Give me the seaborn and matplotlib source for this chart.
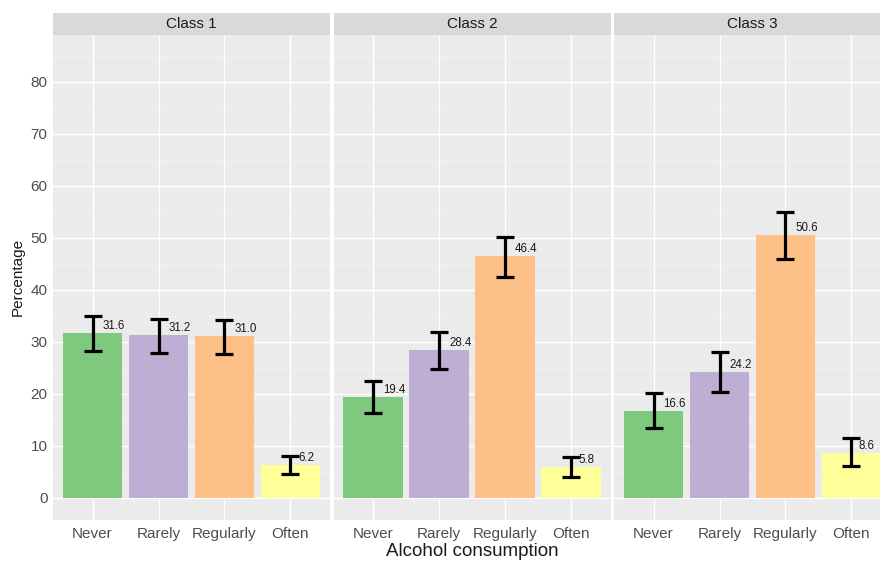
import matplotlib
matplotlib.use("Agg")
import matplotlib.pyplot as plt
import numpy as np
import pandas as pd
import seaborn as sns
from matplotlib.patches import Rectangle

# Survey data: alcohol consumption by latent class
categories = ["Never", "Rarely", "Regularly", "Often"]
classes = ["Class 1", "Class 2", "Class 3"]
pct_class1 = [31.6, 31.2, 31.0, 6.2]
pct_class2 = [19.4, 28.4, 46.4, 5.8]
pct_class3 = [16.6, 24.2, 50.6, 8.6]
low_class1 = [28.2, 27.9, 27.6, 4.5]
low_class2 = [16.3, 24.8, 42.4, 4.0]
low_class3 = [13.3, 20.4, 46.0, 6.1]
high_class1 = [34.9, 34.4, 34.1, 8.0]
high_class2 = [22.5, 31.9, 50.2, 7.8]
high_class3 = [20.1, 28.1, 54.9, 11.4]
colors = ["#7FC97F", "#BEAED4", "#FDC086", "#FFFF99"]

pcts = [pct_class1, pct_class2, pct_class3]
lows = [low_class1, low_class2, low_class3]
highs = [high_class1, high_class2, high_class3]

sns.set_style("white")
plt.rcParams["font.family"] = ["Liberation Sans", "DejaVu Sans"]

W, H = 880, 563
fig = plt.figure(figsize=(W / 100, H / 100), dpi=100)

panel_w = 277
panel_left = [53, 333.5, 614]
top_px, bottom_px = 35, 520
strip_top = 13
ylim = (-4.33, 89.04)

for k, cls in enumerate(classes):
    x0 = panel_left[k]
    ax = fig.add_axes([x0 / W, (H - bottom_px) / H, panel_w / W, (bottom_px - top_px) / H])
    df = pd.DataFrame({"category": categories, "pct": pcts[k]})
    sns.barplot(data=df, x="category", y="pct", hue="category", order=categories,
                hue_order=categories, palette=colors, width=0.9, legend=False,
                errorbar=None, saturation=1, edgecolor="none", linewidth=0,
                ax=ax, zorder=2)
    xs = np.arange(len(categories))
    vals = np.array(pcts[k])
    lo = vals - np.array(lows[k])
    hi = np.array(highs[k]) - vals
    ax.errorbar(xs, vals, yerr=[lo, hi], fmt="none", ecolor="black",
                elinewidth=2.3, capsize=6.5, capthick=2.3, zorder=3)
    for xi, v in zip(xs, vals):
        lab = f"{v:.1f}"
        ax.annotate(lab, (xi, v), xytext=(2.5 * len(lab), 7), textcoords="offset pixels",
                    ha="left", va="center", fontsize=8.3, color="#1A1A1A", zorder=4)

    ax.set_xlim(-0.6, 3.6)
    ax.set_ylim(*ylim)
    ax.set_facecolor("#EBEBEB")
    ax.set_axisbelow(True)
    ax.set_yticks(np.arange(0, 81, 10))
    ax.set_yticks(np.arange(5, 90, 10), minor=True)
    ax.grid(which="major", color="white", linewidth=1.0)
    ax.grid(which="minor", axis="y", color="white", linewidth=0.5, alpha=0.5)
    for s in ax.spines.values():
        s.set_visible(False)
    ax.set_xlabel("")
    ax.set_ylabel("")
    ax.tick_params(axis="x", which="major", length=2, color="#333333",
                   labelsize=11, labelcolor="#4D4D4D", pad=3)
    ax.tick_params(axis="y", which="minor", length=0)
    if k == 0:
        ax.tick_params(axis="y", which="major", length=2, color="#333333",
                       labelsize=11, labelcolor="#4D4D4D", pad=2)
    else:
        ax.tick_params(axis="y", which="major", length=0, labelleft=False)

    # facet strip
    fig.add_artist(Rectangle((x0 / W, (H - top_px) / H), panel_w / W, (top_px - strip_top) / H,
                             transform=fig.transFigure, facecolor="#D9D9D9", edgecolor="none"))
    fig.text((x0 + panel_w / 2) / W, (H - (top_px + strip_top) / 2) / H, cls,
             ha="center", va="center", fontsize=11, color="#1A1A1A")

fig.text(472 / W, (H - 551) / H, "Alcohol consumption", ha="center", va="center",
         fontsize=13.5, color="#1A1A1A")
fig.text(18 / W, (H - 277) / H, "Percentage", ha="center", va="center",
         rotation=90, fontsize=11, color="#1A1A1A")

fig.savefig("out.png", dpi=100, facecolor="white")
